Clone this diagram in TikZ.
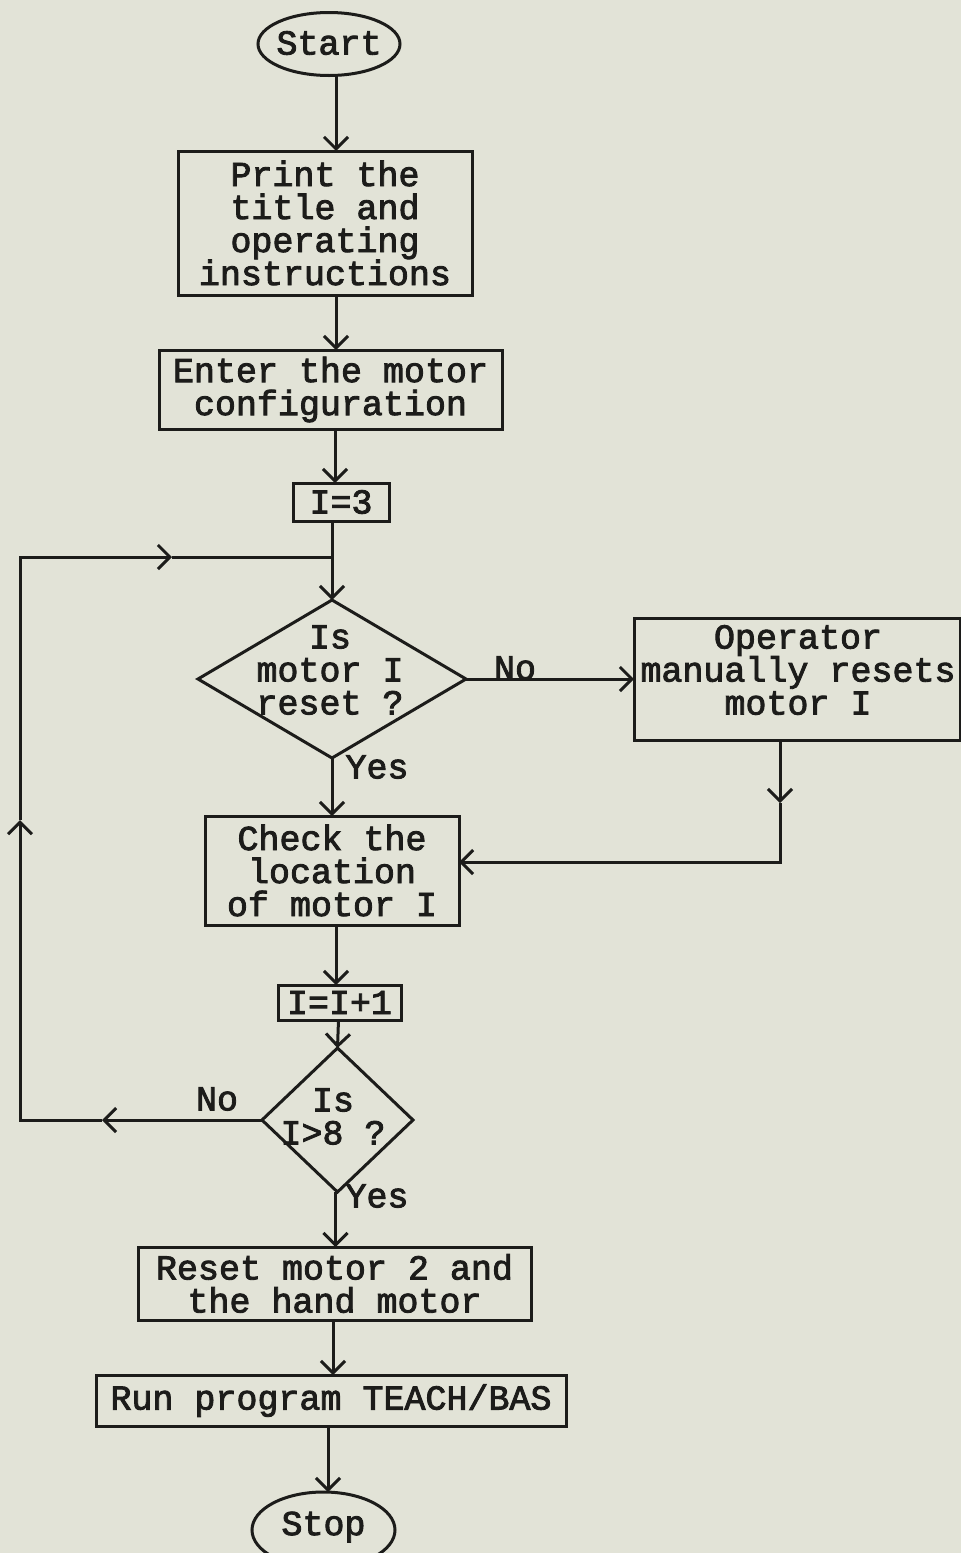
\documentclass[tikz,border=0pt]{standalone}
\usepackage{fontspec}
\usetikzlibrary{shapes.geometric,arrows.meta}
\newfontfamily\tw[BoldFont={Liberation Mono},BoldFeatures={FakeBold=2.5}]{Liberation Mono}
\definecolor{paper}{RGB}{226,227,215}
\definecolor{ink}{RGB}{28,28,26}
\begin{document}
\begin{tikzpicture}[x=1pt,y=-1pt,
  every node/.style={inner sep=0pt,outer sep=0pt},
  ln/.style={draw=ink,line width=3pt},
  arr/.style={ln,-{Straight Barb[length=12pt,width=24pt]}},
  box/.style={ln,rectangle,font=\tw\bfseries\fontsize{35}{33}\selectfont,align=center,text=ink},
  oval/.style={ln,ellipse},
  dec/.style={ln,diamond},
  txt/.style={font=\tw\bfseries\fontsize{35}{33}\selectfont,align=center,text=ink}]
\fill[paper] (0,0) rectangle (961,1553);
\useasboundingbox (0,0) rectangle (961,1553);

% nodes
\node[oval,minimum width=142pt,minimum height=63pt] (start) at (329,44) {};
\node[txt] (starttxt) at (329,43) {Start};
\node[box,minimum width=294pt,minimum height=144pt] (b1) at (325,223) {Print the\\title and\\operating\\instructions};
\node[box,minimum width=343pt,minimum height=79pt] (b2) at (330.5,389.5) {Enter the motor\\configuration};
\node[box,minimum width=96pt,minimum height=38pt] (i3) at (341,502) {I=3};
\node[dec,minimum width=268pt,minimum height=158pt] (d1) at (332,679) {};
\node[txt] (d1txt) at (330,670) {Is\\motor I\\reset ?};
\node[ln,rectangle,minimum width=326pt,minimum height=122pt] (op) at (797,679) {};
\node[txt] (optxt) at (798,670) {Operator\\manually resets\\motor I};
\node[box,minimum width=254pt,minimum height=109pt] (ch) at (332,870.5) {Check the\\location\\of motor I};
\node[box,minimum width=123pt,minimum height=35pt] (inc) at (339.5,1002.5) {I=I+1};
\node[dec,minimum width=151pt,minimum height=144pt] (d2) at (337.5,1120) {};
\node[txt] (d2txt) at (333,1116.5) {Is\\I>8 ?};
\node[box,minimum width=393pt,minimum height=73pt] (rs) at (334.5,1283.5) {Reset motor 2 and\\the hand motor};
\node[box,minimum width=470pt,minimum height=51pt] (run) at (331,1400.5) {Run program TEACH/BAS};
\node[oval,minimum width=143pt,minimum height=76pt] (stop) at (323.5,1530) {};
\node[txt] (stoptxt) at (323.5,1527) {Stop};

% labels
\node[txt] (no1) at (515,668) {No};
\node[txt] (yes1) at (377,767) {Yes};
\node[txt] (no2) at (217,1099) {No};
\node[txt] (yes2) at (377,1196) {Yes};

% helper coordinates
\coordinate (j1) at (332,557);
\coordinate (m1) at (780,803);
\coordinate (c1) at (780,862);
\coordinate (m2) at (102,1120);
\coordinate (L1) at (20,1120);
\coordinate (m3) at (20,820);
\coordinate (L2) at (20,557);
\coordinate (m4) at (172,557);

% connectors
\draw[arr] ([xshift=7pt]start.south) -- ([xshift=11pt]b1.north);
\draw[arr] ([xshift=11pt]b1.south) -- ([xshift=5.5pt]b2.north);
\draw[arr] ([xshift=4.5pt]b2.south) -- ([xshift=-6pt]i3.north);
\draw[arr] ([xshift=-9pt]i3.south) -- (d1.north);
\draw[arr] (d1.east) -- (op.west);
\draw[arr] ([xshift=-17pt]op.south) -- (m1);
\draw[arr] (m1) -- (c1) -- ([yshift=8.5pt]ch.east);
\draw[arr] (d1.south) -- (d1.south |- ch.north);
\draw[arr] ([xshift=4pt]ch.south) -- ([xshift=-3.5pt]inc.north);
\draw[arr] ([xshift=-1pt]inc.south) -- (d2.north);
\draw[arr] (d2.west) -- (m2);
\draw[arr] (m2) -- (L1) -- (m3);
\draw[arr] (m3) -- (L2) -- (m4);
\draw[ln] (m4) -- (j1);
\draw[arr] ([xshift=-2pt]d2.south) -- ([xshift=1pt]rs.north);
\draw[arr] ([xshift=-1.5pt]rs.south) -- ([xshift=2pt]run.north);
\draw[arr] ([xshift=-3pt]run.south) -- ([xshift=4.5pt]stop.north);
\end{tikzpicture}
\end{document}
